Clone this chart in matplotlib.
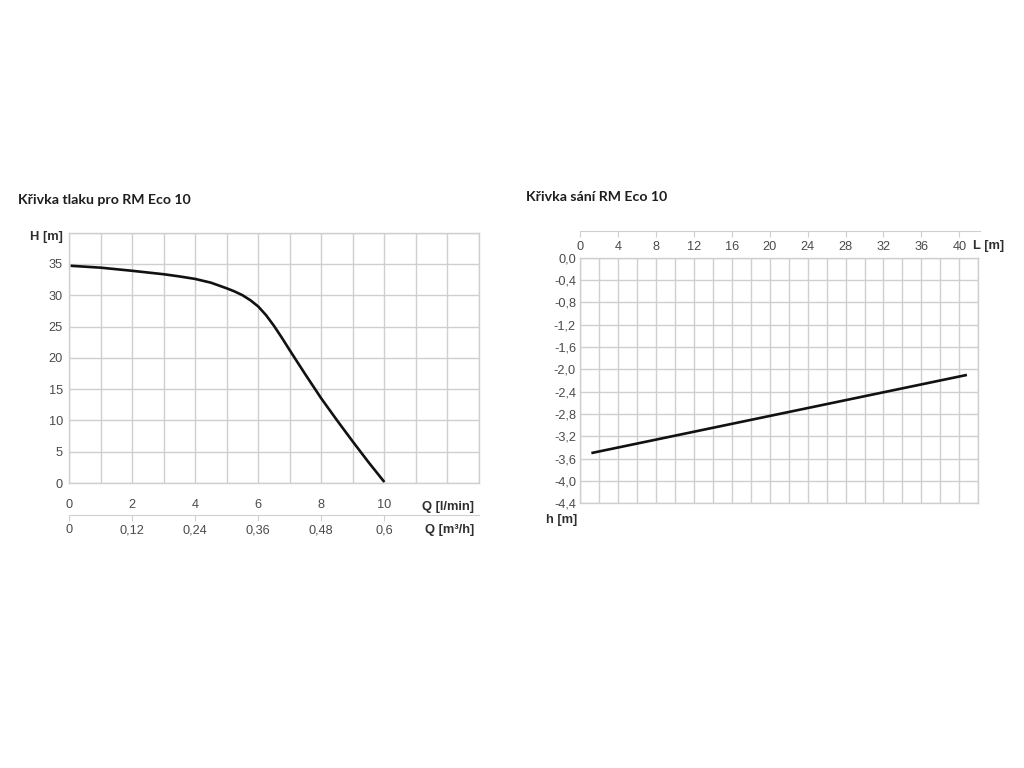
#!/usr/bin/env python3
"""Pump curves for RM Eco 10: pressure curve (H vs Q) and suction curve (h vs L)."""

import matplotlib

matplotlib.use("Agg")
import matplotlib.pyplot as plt

# --- pressure curve (left) ---
Q_LMIN = [0.05, 1, 2, 3, 3.5, 4, 4.5, 5, 5.25, 5.5, 5.75, 6, 6.25, 6.5, 6.75, 7,
          7.5, 8, 8.5, 9, 9.5, 10]
H_M = [34.7, 34.4, 33.9, 33.35, 33.0, 32.6, 32.0, 31.1, 30.6, 30.0, 29.2, 28.2, 26.8,
       25.1, 23.2, 21.2, 17.3, 13.5, 10.0, 6.6, 3.3, 0.15]
Q_TICKS = [0, 2, 4, 6, 8, 10]
Q_M3H_LABELS = ["0", "0,12", "0,24", "0,36", "0,48", "0,6"]
H_TICKS = [0, 5, 10, 15, 20, 25, 30, 35]

# --- suction curve (right) ---
L_M = [1.2, 40.8]
h_M = [-3.5, -2.1]
L_TICKS = [0, 4, 8, 12, 16, 20, 24, 28, 32, 36, 40]
h_TICKS = [0.0, -0.4, -0.8, -1.2, -1.6, -2.0, -2.4, -2.8, -3.2, -3.6, -4.0, -4.4]

TITLE_LEFT = "Křivka tlaku pro RM Eco 10"
TITLE_RIGHT = "Křivka sání RM Eco 10"

W, H = 1024, 768
GRID = "#cfcfcf"
TICK_COLOR = "#4a4a4a"
LABEL_COLOR = "#2e2e2e"
TICK_FONT = "Liberation Sans"
TITLE_FONT = "Lato"
TICK_SIZE = 9.2
LABEL_SIZE = 9.3
PT = 0.72  # px -> pt at dpi 100


def rect(x0, y0, x1, y1):
    """Pixel box (top-left origin) -> figure fraction [l, b, w, h]."""
    return [x0 / W, 1 - y1 / H, (x1 - x0) / W, (y1 - y0) / H]


def comma(v, fmt):
    return format(v, fmt).replace(".", ",")


def style_grid_axes(ax):
    for s in ax.spines.values():
        s.set_color(GRID)
        s.set_linewidth(1.0)
    ax.grid(True, color=GRID, linewidth=1.0)
    ax.set_axisbelow(True)


def scale_axis(fig, box, xlim, ticks, labels, pad_px):
    """Thin stand-alone axis line with downward ticks and labels below."""
    ax = fig.add_axes(box)
    ax.set_xlim(*xlim)
    ax.set_ylim(0, 1)
    for side in ("top", "left", "right"):
        ax.spines[side].set_visible(False)
    ax.spines["bottom"].set_color(GRID)
    ax.set_yticks([])
    ax.set_xticks(ticks)
    ax.set_xticklabels(labels, fontfamily=TICK_FONT, fontsize=TICK_SIZE, color=TICK_COLOR)
    ax.tick_params(axis="x", length=4, color=GRID, pad=pad_px * PT)
    ax.patch.set_alpha(0)
    return ax


def main() -> None:
    fig = plt.figure(figsize=(W / 100, H / 100), dpi=100)

    # ---------------- left: pressure curve ----------------
    ax = fig.add_axes(rect(69, 232.6, 479, 483))
    ax.set_xlim(0, 13)
    ax.set_ylim(0, 40)
    ax.set_xticks(range(0, 14))
    ax.set_yticks(range(0, 41, 5))
    ax.set_xticklabels([str(t) if t in Q_TICKS else "" for t in range(0, 14)],
                       fontfamily=TICK_FONT, fontsize=TICK_SIZE, color=TICK_COLOR)
    ax.set_yticklabels([str(t) if t in H_TICKS else "" for t in range(0, 41, 5)],
                       fontfamily=TICK_FONT, fontsize=TICK_SIZE, color=TICK_COLOR)
    ax.tick_params(axis="x", length=0, pad=16.5 * PT)
    ax.tick_params(axis="y", length=0, pad=6 * PT)
    style_grid_axes(ax)
    ax.plot(Q_LMIN, H_M, color="#111111", linewidth=1.9, solid_capstyle="butt")

    scale_axis(fig, rect(69, 514.9, 479, 515), (0, 13), Q_TICKS, Q_M3H_LABELS, 3.5)

    fig.text(18 / W, 1 - 200 / H, TITLE_LEFT, fontfamily=TITLE_FONT, fontweight="bold",
             fontsize=10.2, color="#1e1e1e", ha="left", va="center")
    fig.text(63 / W, 1 - 237 / H, "H [m]", fontfamily=TICK_FONT, fontweight="bold",
             fontsize=LABEL_SIZE, color=LABEL_COLOR, ha="right", va="center")
    fig.text(474 / W, 1 - 507 / H, "Q [l/min]", fontfamily=TICK_FONT, fontweight="bold",
             fontsize=LABEL_SIZE, color=LABEL_COLOR, ha="right", va="center")
    fig.text(474 / W, 1 - 529.5 / H, "Q [m³/h]", fontfamily=TICK_FONT, fontweight="bold",
             fontsize=LABEL_SIZE, color=LABEL_COLOR, ha="right", va="center")

    # ---------------- right: suction curve ----------------
    bx = fig.add_axes(rect(580, 257.7, 978.3, 503.3))
    bx.set_xlim(0, 42)
    bx.set_ylim(-4.4, 0)
    bx.set_xticks(range(0, 43, 2))
    bx.set_xticklabels([])
    bx.set_yticks(h_TICKS)
    bx.set_yticklabels([comma(v, ".1f") for v in h_TICKS],
                       fontfamily=TICK_FONT, fontsize=TICK_SIZE, color=TICK_COLOR)
    bx.tick_params(axis="x", length=0)
    bx.tick_params(axis="y", length=0, pad=4 * PT)
    style_grid_axes(bx)
    bx.plot(L_M, h_M, color="#111111", linewidth=1.9, solid_capstyle="butt")

    scale_axis(fig, rect(580, 230.9, 980, 231), (0, 42 * 400 / 398.3), L_TICKS,
               [str(t) for t in L_TICKS], 4)

    fig.text(526 / W, 1 - 197 / H, TITLE_RIGHT, fontfamily=TITLE_FONT, fontweight="bold",
             fontsize=10.2, color="#1e1e1e", ha="left", va="center")
    fig.text(973 / W, 1 - 246 / H, "L [m]", fontfamily=TICK_FONT, fontweight="bold",
             fontsize=LABEL_SIZE, color=LABEL_COLOR, ha="left", va="center")
    fig.text(577 / W, 1 - 520 / H, "h [m]", fontfamily=TICK_FONT, fontweight="bold",
             fontsize=LABEL_SIZE, color=LABEL_COLOR, ha="right", va="center")

    fig.savefig("out.png", dpi=100, facecolor="white")


if __name__ == "__main__":
    main()
